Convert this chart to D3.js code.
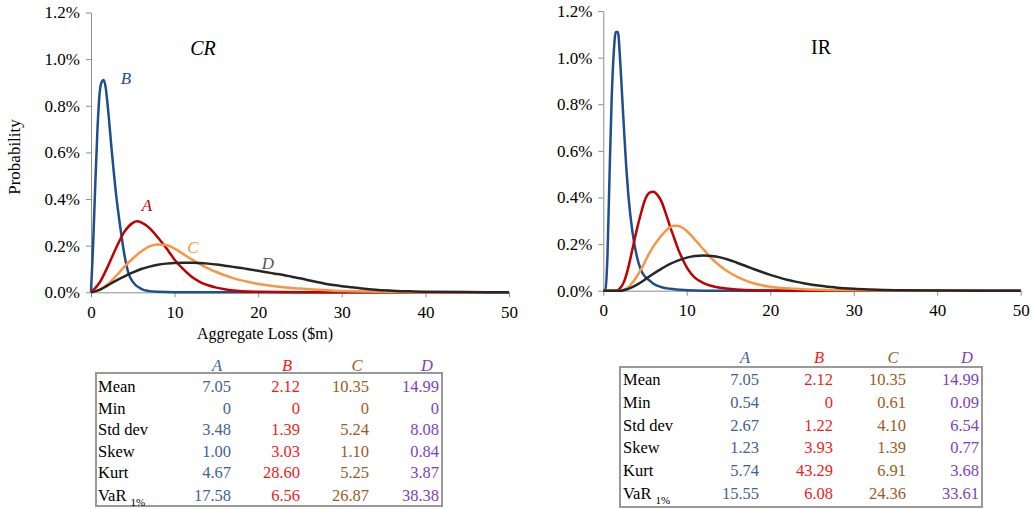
<!DOCTYPE html>
<html>
<head>
<meta charset="utf-8">
<script src="https://cdn.jsdelivr.net/npm/d3@7"></script>
<style>
  body { margin: 0; background: #fff; }
  svg { display: block; }
  svg text { font-family: "Liberation Serif", "Times New Roman", serif; }
</style>
</head>
<body>
<div id="chart"></div>
<script>
// Canvas
var page_width  = 1032;
var page_height = 509;

// Curve points: [aggregate loss $m, probability %]
var crA = [[0,0],[1,0.04],[2,0.11],[3,0.19],[4,0.26],[5,0.298],[5.5,0.305],[6,0.3],[7,0.275],[8,0.235],[9,0.19],[10,0.14],[11,0.1],[12,0.068],[13,0.045],[14,0.03],[15,0.02],[16,0.013],[17,0.008],[18,0.005],[20,0.002],[25,0],[50,0]];
var crB = [[0,0],[0.25,0.2],[0.5,0.45],[0.75,0.68],[1,0.84],[1.25,0.9],[1.5,0.91],[1.75,0.88],[2,0.8],[2.5,0.6],[3,0.42],[3.5,0.28],[4,0.16],[4.5,0.08],[5,0.045],[6,0.015],[7,0.005],[8,0.002],[10,0],[50,0]];
var crC = [[0,0],[1,0.01],[2,0.035],[3,0.07],[4,0.11],[5,0.145],[6,0.175],[7,0.197],[8,0.205],[9,0.203],[10,0.187],[11,0.165],[12,0.142],[13,0.121],[14,0.103],[15,0.087],[16,0.073],[17,0.061],[18,0.051],[19,0.043],[20,0.036],[21,0.031],[22,0.026],[23,0.022],[25,0.016],[27,0.011],[30,0.006],[33,0.003],[36,0.0015],[40,0.0005],[50,0]];
var crD = [[0,0],[1,0.01],[2,0.03],[3,0.05],[4,0.068],[5,0.085],[6,0.1],[7,0.11],[8,0.118],[9,0.123],[10,0.126],[11,0.127],[12,0.127],[13,0.126],[14,0.123],[15,0.119],[16,0.114],[17,0.109],[18,0.104],[19,0.098],[20,0.092],[21,0.086],[22,0.08],[23,0.074],[24,0.067],[25,0.06],[26,0.052],[27,0.044],[28,0.037],[29,0.031],[30,0.026],[31,0.022],[32,0.018],[34,0.011],[36,0.007],[38,0.004],[40,0.0025],[45,0.0008],[50,0]];

var irA = [[0,0],[1.5,0],[2,0.01],[2.5,0.04],[3,0.1],[3.5,0.18],[4,0.26],[4.5,0.33],[5,0.39],[5.5,0.42],[6,0.425],[6.5,0.41],[7,0.38],[7.5,0.33],[8,0.275],[8.5,0.225],[9,0.175],[9.5,0.135],[10,0.1],[10.5,0.074],[11,0.055],[12,0.033],[13,0.02],[14,0.013],[15,0.008],[17,0.003],[20,0.001],[25,0],[50,0]];
var irB = [[0,0],[0.25,0.005],[0.5,0.15],[0.75,0.5],[1,0.82],[1.25,1.02],[1.5,1.11],[1.75,1.11],[2,1.0],[2.25,0.84],[2.5,0.68],[2.75,0.53],[3,0.41],[3.5,0.25],[4,0.15],[4.5,0.09],[5,0.06],[5.5,0.045],[6,0.03],[7,0.015],[8,0.008],[10,0.002],[12,0],[50,0]];
var irC = [[0,0],[2,0],[2.5,0.005],[3,0.015],[3.5,0.035],[4,0.06],[4.5,0.09],[5,0.125],[5.5,0.16],[6,0.19],[6.5,0.215],[7,0.238],[7.5,0.258],[8,0.272],[8.5,0.279],[9,0.278],[9.5,0.27],[10,0.256],[10.5,0.238],[11,0.218],[11.5,0.198],[12,0.177],[12.5,0.157],[13,0.138],[14,0.106],[15,0.08],[16,0.06],[17,0.044],[18,0.032],[19,0.023],[20,0.017],[22,0.01],[24,0.006],[27,0.003],[30,0.0015],[35,0.0005],[50,0]];
var irD = [[0,0],[2,0],[2.5,0.003],[3,0.008],[4,0.025],[5,0.048],[6,0.073],[7,0.095],[8,0.115],[9,0.13],[10,0.142],[11,0.149],[12,0.151],[13,0.149],[14,0.143],[15,0.133],[16,0.12],[17,0.107],[18,0.093],[19,0.08],[20,0.068],[21,0.057],[22,0.047],[23,0.039],[24,0.032],[25,0.026],[26,0.021],[27,0.017],[28,0.013],[30,0.008],[32,0.005],[35,0.002],[40,0.0005],[50,0]];

// Axes
var x_ticks = [0, 10, 20, 30, 40, 50];
var y_ticks = [0, 0.2, 0.4, 0.6, 0.8, 1.0, 1.2];

// Tables
var stat_names = ['Mean', 'Min', 'Std dev', 'Skew', 'Kurt', 'VaR'];
var portfolios = ['A', 'B', 'C', 'D'];
var crStats = [
  ['7.05', '2.12', '10.35', '14.99'],
  ['0', '0', '0', '0'],
  ['3.48', '1.39', '5.24', '8.08'],
  ['1.00', '3.03', '1.10', '0.84'],
  ['4.67', '28.60', '5.25', '3.87'],
  ['17.58', '6.56', '26.87', '38.38']
];
var irStats = [
  ['7.05', '2.12', '10.35', '14.99'],
  ['0.54', '0', '0.61', '0.09'],
  ['2.67', '1.22', '4.10', '6.54'],
  ['1.23', '3.93', '1.39', '0.77'],
  ['5.74', '43.29', '6.91', '3.68'],
  ['15.55', '6.08', '24.36', '33.61']
];

var line_colors  = { A: '#c00000', B: '#1f4e8c', C: '#f79646', D: '#262626' };
var table_colors = { A: '#3f6296', B: '#f21a1a', C: '#9b5a23', D: '#7d3fbf' };
var serif = '"Liberation Serif", "Times New Roman", serif';

var svg = d3.select('#chart')
  .append('svg')
  .attr('width', page_width)
  .attr('height', page_height)
  .attr('font-family', serif);

function draw_chart(opts) {
  var x = d3.scaleLinear().domain([0, 50]).range([opts.left, opts.right]);
  var y = d3.scaleLinear().domain([0, 1.2]).range([opts.bottom, opts.top]);

  var g = svg.append('g');

  var yAxis = g.append('g')
    .attr('transform', 'translate(' + opts.left + ',0)')
    .call(d3.axisLeft(y).tickValues(y_ticks).tickSize(5).tickSizeOuter(0).tickPadding(6)
      .tickFormat(function(d) { return d.toFixed(1) + '%'; }));

  var xAxis = g.append('g')
    .attr('transform', 'translate(0,' + opts.bottom + ')')
    .call(d3.axisBottom(x).tickValues(x_ticks).tickSize(5).tickSizeOuter(0).tickPadding(opts.xPad)
      .tickFormat(d3.format('d')));

  [yAxis, xAxis].forEach(function(a) {
    a.attr('font-family', serif).attr('font-size', 17);
    a.select('.domain').attr('stroke', '#8c8c8c');
    a.selectAll('.tick line').attr('stroke', '#8c8c8c');
    a.selectAll('.tick text').attr('fill', '#000');
  });

  var line = d3.line()
    .x(function(d) { return x(d[0]); })
    .y(function(d) { return y(d[1]); })
    .curve(d3.curveMonotoneX);

  ['B', 'A', 'C', 'D'].forEach(function(k) {
    g.append('path')
      .datum(opts.series[k])
      .attr('d', line)
      .attr('fill', 'none')
      .attr('stroke', line_colors[k])
      .attr('stroke-width', 2.5)
      .attr('stroke-linejoin', 'round');
  });

  g.append('text')
    .attr('x', opts.titleX)
    .attr('y', opts.titleY)
    .attr('text-anchor', 'middle')
    .attr('font-size', 20)
    .attr('font-style', opts.titleItalic ? 'italic' : 'normal')
    .text(opts.title);

  return g;
}

function draw_table(opts, stats) {
  var g = svg.append('g').attr('font-size', 16.5);
  g.append('rect')
    .attr('x', opts.left)
    .attr('y', opts.top)
    .attr('width', opts.right - opts.left)
    .attr('height', opts.bottom - opts.top)
    .attr('fill', 'none')
    .attr('stroke', '#999')
    .attr('stroke-width', 2);

  portfolios.forEach(function(p, j) {
    g.append('text')
      .attr('x', opts.headX[j])
      .attr('y', opts.headY)
      .attr('dy', '0.35em')
      .attr('text-anchor', 'middle')
      .attr('fill', table_colors[p])
      .attr('font-style', 'italic')
      .text(p);
  });

  stat_names.forEach(function(name, i) {
    var ty = opts.rowY[i];
    var label = g.append('text')
      .attr('x', opts.labelX)
      .attr('y', ty)
      .attr('dy', '0.35em')
      .text(name);
    if (name === 'VaR') {
      label.append('tspan')
        .attr('dx', 4)
        .attr('dy', 5)
        .attr('font-size', 11)
        .text('1%');
    }
    stats[i].forEach(function(v, j) {
      g.append('text')
        .attr('x', opts.valueX[j])
        .attr('y', ty)
        .attr('dy', '0.35em')
        .attr('text-anchor', 'end')
        .attr('fill', table_colors[portfolios[j]])
        .text(v);
    });
  });
}

// CR chart
var cr = draw_chart({
  left: 91, right: 509, top: 12.5, bottom: 292.3, xPad: 9,
  series: { A: crA, B: crB, C: crC, D: crD },
  title: 'CR', titleItalic: true, titleX: 203, titleY: 55
});

var curve_labels = [
  { k: 'B', x: 126, y: 78, color: '#1f4e8c' },
  { k: 'A', x: 147, y: 205, color: '#c00000' },
  { k: 'C', x: 193, y: 247, color: '#f79646' },
  { k: 'D', x: 268, y: 263, color: '#555555' }
];
curve_labels.forEach(function(l) {
  cr.append('text')
    .attr('x', l.x)
    .attr('y', l.y)
    .attr('dy', '0.35em')
    .attr('text-anchor', 'middle')
    .attr('fill', l.color)
    .attr('font-size', 17)
    .attr('font-style', 'italic')
    .text(l.k);
});

svg.append('text')
  .attr('transform', 'translate(14,157) rotate(-90)')
  .attr('text-anchor', 'middle')
  .attr('dy', '0.35em')
  .attr('font-size', 17)
  .text('Probability');

svg.append('text')
  .attr('x', 265)
  .attr('y', 339)
  .attr('text-anchor', 'middle')
  .attr('font-size', 16)
  .text('Aggregate Loss ($m)');

// IR chart
draw_chart({
  left: 603.3, right: 1020.7, top: 11, bottom: 290.7, xPad: 8,
  series: { A: irA, B: irB, C: irC, D: irD },
  title: 'IR', titleItalic: false, titleX: 821, titleY: 54
});

draw_table({
  left: 96, right: 442, top: 373, bottom: 506,
  headY: 365, headX: [217, 287, 357, 427],
  labelX: 98, valueX: [231, 300, 369, 439],
  rowY: [386, 408, 429, 451, 472, 495]
}, crStats);

draw_table({
  left: 620, right: 982, top: 367, bottom: 507,
  headY: 357, headX: [745, 819, 893, 967],
  labelX: 623, valueX: [759, 833, 906, 979],
  rowY: [379, 402, 425, 447, 470, 493]
}, irStats);
</script>
</body>
</html>
